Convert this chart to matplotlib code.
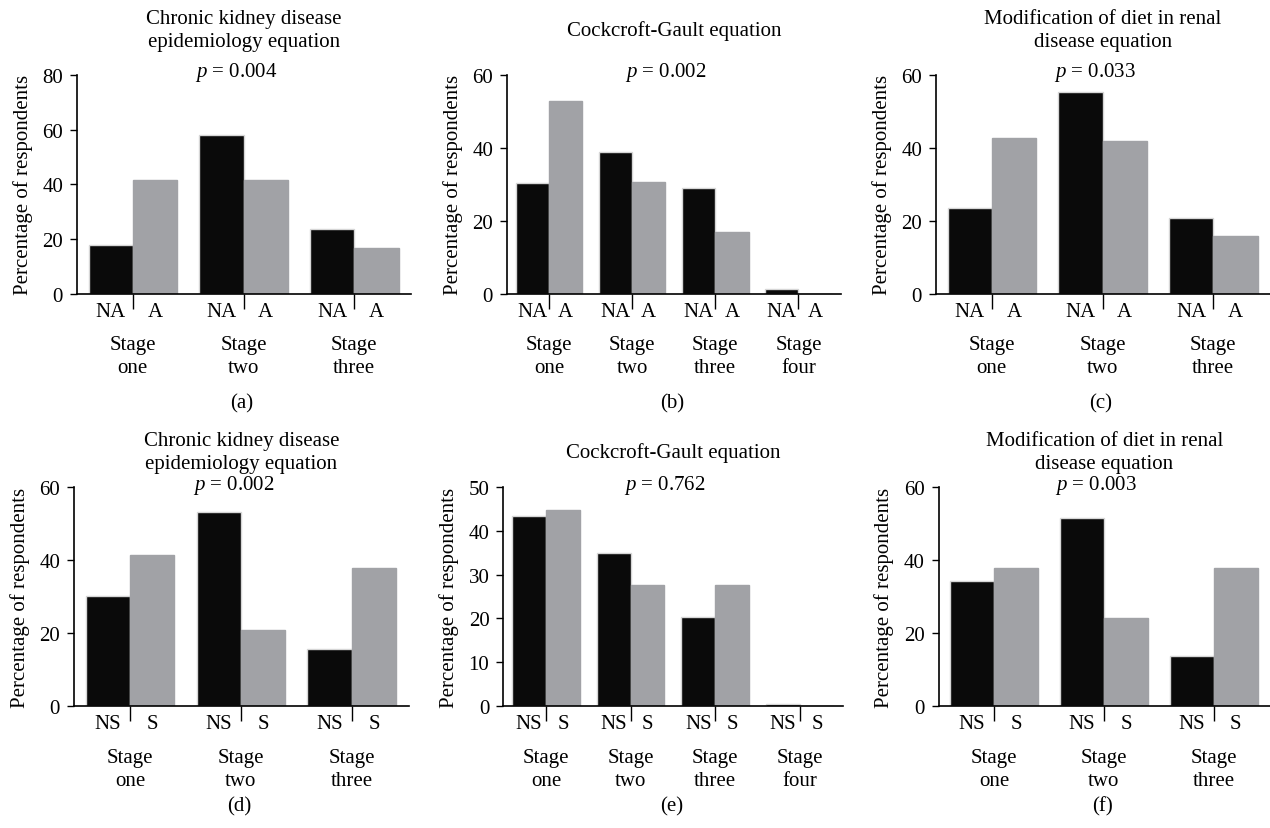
import matplotlib
matplotlib.use("Agg")
import matplotlib.pyplot as plt
import matplotlib.transforms as mtransforms
import numpy as np

plt.rcParams['font.family'] = ['Liberation Serif', 'DejaVu Serif']
plt.rcParams['mathtext.fontset'] = 'custom'
plt.rcParams['mathtext.it'] = 'Liberation Serif:italic'
plt.rcParams['mathtext.rm'] = 'Liberation Serif'

W, H = 1270, 829
FS = 15

stages3 = ["Stage\none", "Stage\ntwo", "Stage\nthree"]
stages4 = ["Stage\none", "Stage\ntwo", "Stage\nthree", "Stage\nfour"]

title_ckd = "Chronic kidney disease\nepidemiology equation"
title_cg = "Cockcroft-Gault equation"
title_mdrd = "Modification of diet in renal\ndisease equation"

# percentages: first bar of each pair (NA / NS), second bar (A / S)
a_first = [17.8, 58.2, 23.5]
a_second = [41.7, 41.7, 16.7]
b_first = [30.5, 38.8, 29.1, 1.2]
b_second = [52.8, 30.7, 16.8, 0.0]
c_first = [23.5, 55.3, 20.7]
c_second = [42.7, 41.8, 15.8]
d_first = [30.2, 53.3, 15.7]
d_second = [41.4, 20.8, 37.9]
e_first = [43.4, 34.9, 20.3, 0.5]
e_second = [44.8, 27.6, 27.6, 0.0]
f_first = [34.2, 51.5, 13.7]
f_second = [37.8, 24.1, 37.8]

p_values = ["0.004", "0.002", "0.033", "0.002", "0.762", "0.003"]
panel_tags = ["(a)", "(b)", "(c)", "(d)", "(e)", "(f)"]

BLACK = "#0a0a0a"
GREY = "#a1a2a6"
EDGE = "#d6d6d6"

fig = plt.figure(figsize=(W / 100, H / 100), dpi=100)


def px_axes(left, top, right, bottom):
    return fig.add_axes([left / W, 1 - bottom / H, (right - left) / W, (bottom - top) / H])


def fig_text(x, y, s, **kw):
    fig.text(x / W, 1 - y / H, s, ha='center', va='center', fontsize=FS, **kw)


def draw_panel(box, first, second, stages, pair, ymax, ystep, title, title_y, p, tag, row_y):
    left, top, right, bottom = box
    ax = px_axes(left, top, right, bottom)
    n = len(first)
    centers = np.arange(n) * 2.5
    ax.bar(centers - 0.5, first, width=1.0, color=BLACK, edgecolor=EDGE, linewidth=1.0)
    ax.bar(centers + 0.5, second, width=1.0, color=GREY, edgecolor=GREY, linewidth=1.0)
    ax.set_xlim(-1.26, centers[-1] + 1.28)
    ax.set_ylim(0, ymax)
    ax.set_yticks(np.arange(0, ymax + 1, ystep))
    ax.tick_params(axis='y', length=5, width=1.0, labelsize=FS, pad=5)
    ax.set_xticks(centers)
    ax.set_xticklabels([])
    ax.tick_params(axis='x', length=10.5, width=1.0, direction='out')
    for s in ['top', 'right']:
        ax.spines[s].set_visible(False)
    for s in ['left', 'bottom']:
        ax.spines[s].set_linewidth(1.2)
    ax.set_ylabel("Percentage of respondents", fontsize=FS, labelpad=7)

    hpx = bottom - top
    trans = mtransforms.blended_transform_factory(ax.transData, ax.transAxes)
    lab_y = -(row_y[0] - bottom) / hpx
    st_y = -(row_y[1] - bottom) / hpx
    for c, st in zip(centers, stages):
        ax.text(c - 0.5, lab_y, pair[0], transform=trans, ha='center', va='center', fontsize=FS)
        ax.text(c + 0.5, lab_y, pair[1], transform=trans, ha='center', va='center', fontsize=FS)
        ax.text(c, st_y, st, transform=trans, ha='center', va='center', fontsize=FS, linespacing=1.22)

    cx = (left + right) / 2
    fig_text(cx, title_y, title, linespacing=1.35)
    fig_text(cx - 8, top - 3, r"$p$ = " + p)
    fig_text(cx - 2, row_y[2], tag)
    return ax


top_rows = (313, 357, 404)
bot_rows = (725, 770, 807)

draw_panel((77, 76, 411, 294.7), a_first, a_second, stages3, ("NA", "A"), 80, 20,
           title_ckd, 31, p_values[0], panel_tags[0], top_rows)
draw_panel((507, 76, 841, 294.7), b_first, b_second, stages4, ("NA", "A"), 60, 20,
           title_cg, 31, p_values[1], panel_tags[1], top_rows)
draw_panel((936, 76, 1270, 294.7), c_first, c_second, stages3, ("NA", "A"), 60, 20,
           title_mdrd, 31, p_values[2], panel_tags[2], top_rows)
draw_panel((74, 488.3, 408.7, 706.7), d_first, d_second, stages3, ("NS", "S"), 60, 20,
           title_ckd, 453, p_values[3], panel_tags[3], bot_rows)
draw_panel((503.3, 488.3, 843.3, 706.7), e_first, e_second, stages4, ("NS", "S"), 50, 10,
           title_cg, 453, p_values[4], panel_tags[4], bot_rows)
draw_panel((938.7, 488.3, 1270, 706.7), f_first, f_second, stages3, ("NS", "S"), 60, 20,
           title_mdrd, 453, p_values[5], panel_tags[5], bot_rows)

fig.savefig("out.png", dpi=100, facecolor="white")
